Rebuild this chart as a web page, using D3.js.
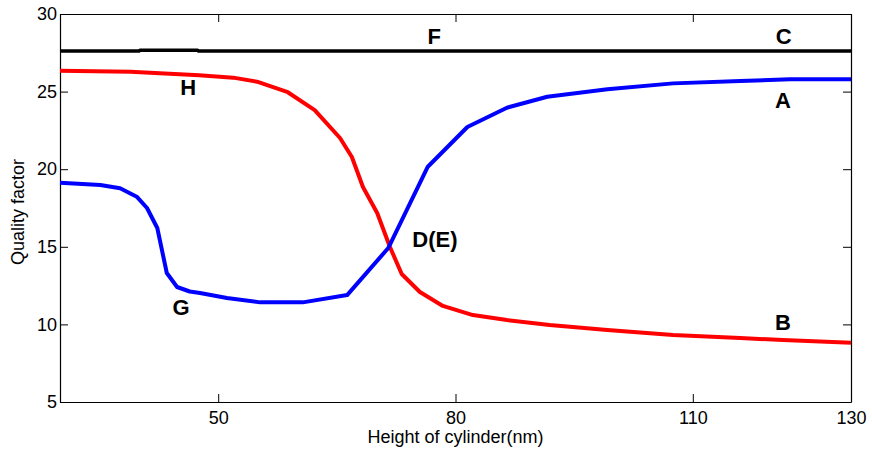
<!DOCTYPE html>
<html>
<head>
<meta charset="utf-8">
<script src="https://cdn.jsdelivr.net/npm/d3@7"></script>
<style>
  html, body { margin: 0; padding: 0; background: #fff; }
  svg { display: block; }
  text { font-family: Arial, "Liberation Sans", sans-serif; }
</style>
</head>
<body>
<svg id="chart" width="872" height="452"></svg>
<script>
// ---- Data ----
const heightsA = [30, 35.1, 37.6, 39.7, 41.0, 42.3, 43.5, 44.8, 46.4, 47.7, 51.1, 55.3, 60.7, 66.3, 71.5, 76.5, 81.5, 86.5, 91.6, 99.2, 107.5, 116.0, 122.3, 130];
const qualityA = [19.13, 18.98, 18.77, 18.23, 17.5, 16.21, 13.31, 12.41, 12.12, 12.02, 11.70, 11.42, 11.42, 11.89, 14.92, 20.16, 22.72, 23.96, 24.67, 25.15, 25.53, 25.68, 25.79, 25.79];

const heightsB = [30, 38.9, 42.6, 47.6, 51.9, 54.9, 58.8, 62.2, 65.4, 66.9, 68.3, 70.1, 71.7, 73.2, 75.5, 78.4, 82.2, 86.5, 91.9, 99.2, 107.5, 116.0, 121.4, 130];
const qualityB = [26.35, 26.28, 26.18, 26.05, 25.9, 25.64, 24.96, 23.81, 22.01, 20.79, 18.85, 17.18, 15.0, 13.25, 12.09, 11.19, 10.6, 10.28, 9.96, 9.64, 9.32, 9.12, 8.99, 8.82];

const heightsC = [30, 40, 40.1, 47.4, 47.5, 130];
const qualityC = [27.62, 27.62, 27.67, 27.67, 27.62, 27.62];

const xTicks = [50, 80, 110, 130];
const yTicks = [5, 10, 15, 20, 25, 30];

const labelText = ["F", "C", "H", "A", "B", "D(E)", "G"];
const labelX    = [77.3, 121.5, 46.2, 121.4, 121.4, 77.4, 45.3];
const labelY    = [28.07, 28.07, 24.78, 23.94, 9.64, 14.99, 10.6];

const xTitle = "Height of cylinder(nm)";
const yTitle = "Quality factor";

// ---- Layout ----
const W = 872, H = 452;
const margin = { left: 60, right: 21, top: 14, bottom: 50 };
const iw = W - margin.left - margin.right;
const ih = H - margin.top - margin.bottom;

const svg = d3.select("#chart");
const g = svg.append("g").attr("transform", `translate(${margin.left},${margin.top})`);

const x = d3.scaleLinear().domain([30, 130]).range([0, iw]);
const y = d3.scaleLinear().domain([5, 30]).range([ih, 0]);

// Axes with inward ticks
const fontSize = 18;
const axB = g.append("g").attr("transform", `translate(0,${ih})`)
  .call(d3.axisBottom(x).tickValues(xTicks).tickFormat(d3.format("d")).tickSizeInner(-8).tickSizeOuter(0).tickPadding(9));
const axT = g.append("g")
  .call(d3.axisTop(x).tickValues(xTicks).tickFormat("").tickSizeInner(-8).tickSizeOuter(0));
const axL = g.append("g")
  .call(d3.axisLeft(y).tickValues(yTicks).tickFormat(d3.format("d")).tickSizeInner(-8).tickSizeOuter(0).tickPadding(3));
const axR = g.append("g").attr("transform", `translate(${iw},0)`)
  .call(d3.axisRight(y).tickValues(yTicks).tickFormat("").tickSizeInner(-8).tickSizeOuter(0));

[axB, axT, axL, axR].forEach(a => {
  a.selectAll("text").attr("font-size", fontSize).attr("font-family", "Arial, 'Liberation Sans', sans-serif").attr("fill", "#000");
  a.selectAll("line").attr("stroke", "#000").attr("stroke-width", 1);
  a.select(".domain").attr("stroke", "#000").attr("stroke-width", 1.2);
});

// Lines
const line = d3.line().x(d => x(d[0])).y(d => y(d[1]));
const series = [
  { xs: heightsC, ys: qualityC, color: "#000000", w: 3.5 },
  { xs: heightsB, ys: qualityB, color: "#ff0000", w: 4 },
  { xs: heightsA, ys: qualityA, color: "#0000ff", w: 4 }
];
series.forEach(s => {
  g.append("path")
    .datum(s.xs.map((v, i) => [v, s.ys[i]]))
    .attr("fill", "none")
    .attr("stroke", s.color)
    .attr("stroke-width", s.w)
    .attr("stroke-linejoin", "round")
    .attr("d", line);
});

// Annotations
g.selectAll("text.ann")
  .data(labelText.map((t, i) => ({ t, vx: labelX[i], vy: labelY[i] })))
  .enter().append("text")
  .attr("class", "ann")
  .attr("x", d => x(d.vx))
  .attr("y", d => y(d.vy))
  .attr("text-anchor", "middle")
  .attr("font-size", 22)
  .attr("font-weight", "bold")
  .attr("fill", "#000")
  .text(d => d.t);

// Axis titles
svg.append("text")
  .attr("x", margin.left + iw / 2)
  .attr("y", 443)
  .attr("text-anchor", "middle")
  .attr("font-size", fontSize)
  .attr("fill", "#000")
  .text(xTitle);

svg.append("text")
  .attr("transform", `translate(24,${margin.top + ih / 2 + 4}) rotate(-90)`)
  .attr("text-anchor", "middle")
  .attr("font-size", fontSize)
  .attr("fill", "#000")
  .text(yTitle);
</script>
</body>
</html>
